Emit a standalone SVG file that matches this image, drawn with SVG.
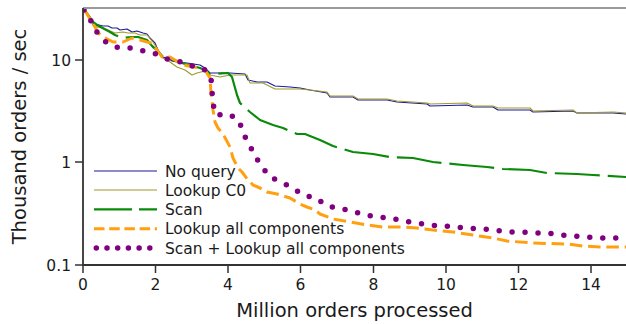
<svg xmlns="http://www.w3.org/2000/svg" width="626" height="324" viewBox="0 0 626 324">
<style>
text{font-family:"DejaVu Sans","Liberation Sans",sans-serif;fill:#1a1a1a}
.tick{font-size:15.5px}
.lab{font-size:19.5px}
.leg{font-size:15.5px}
.ax{stroke:#333;stroke-width:1.8;fill:none}
.tk{stroke:#333;stroke-width:1.5}
.s{fill:none;stroke-linejoin:round}
.nq{stroke:#1a1a9a;stroke-width:1.1}
.c0{stroke:#a09a28;stroke-width:1.1}
.sc{stroke:#0a8a0a;stroke-width:2.2}
.la{stroke:#ffa010;stroke-width:3}
.sl{stroke:#800080;stroke-width:5.5;stroke-linecap:round}
</style>
<defs>
<clipPath id="plot"><rect x="83" y="8" width="543" height="257"/></clipPath>
</defs>
<rect width="626" height="324" fill="#fff"/>
<g id="series" clip-path="url(#plot)">
<g id="no-query"><path class="s nq" d="M83.5,9 L86,12 L93,22 L95,24 L103,26 L108,26 L112,28 L117,28 L120,30 L127,29 L132,32 L137,31 L143,33 L147,34 L150,38 L155,43 L158,50 L162,57 L168,58 L172,61 L177,62 L187,63 L200,65 L205,68 L210,73 L230,73 L245,74 L248,80 L257,82 L267,82 L275,86 L290,87 L300,88 L310,90 L327,93 L330,97 L353,97 L358,100 L387,100 L397,102 L427,104 L430,106 L467,105 L473,107 L493,107 L498,110 L530,110 L533,112 L573,111 L577,113 L613,113 L626,114"/></g>
<g id="lookup-c0"><path class="s c0" d="M83.5,9 L86,12 L93,25 L97,27 L103,28 L108,30 L115,33 L123,32 L128,33 L135,33 L140,35 L147,35 L153,42 L158,50 L163,58 L170,62 L177,67 L185,70 L192,75 L197,73 L205,71 L210,75 L220,77 L230,75 L247,75 L250,83 L263,83 L275,89 L300,89 L310,90 L327,92 L330,96 L353,96 L358,99 L387,99 L397,101 L427,103 L430,104 L467,103 L473,106 L493,106 L498,108 L530,108 L533,111 L573,110 L577,113 L613,112 L626,113"/></g>
<g id="scan"><path class="s sc" stroke-dasharray="45 8" d="M83.5,9 L86,12 L93,22 L97,25 L110,32 L115,35 L123,38 L132,37 L138,37 L147,40 L153,47 L157,50 L163,57 L168,55 L173,60 L185,64 L200,68 L205,70 L210,74 L228,73 L232,77 L237,95 L240,103 L250,112 L260,120 L273,125 L283,128 L297,134 L305,134 L320,140 L333,146 L353,152 L373,154 L390,157 L413,158 L433,162 L463,165 L487,167 L503,169 L530,170 L547,173 L577,174 L593,175 L626,177"/></g>
<g id="lookup-all"><path class="s la" stroke-dasharray="12.5 5.8" d="M83.5,9 L87,14 L95,27 L98,33 L103,37 L113,42 L123,42 L132,38 L140,40 L147,42 L152,43 L157,50 L162,57 L170,57 L183,65 L200,68 L205,70 L210,78 L211,93 L213,110 L215,122 L218,128 L223,134 L230,147 L233,158 L238,168 L242,172 L248,180 L253,185 L260,188 L267,192 L277,194 L290,198 L300,204 L307,207 L315,210 L320,214 L333,219 L350,222 L367,225 L383,227 L403,227 L417,228 L433,230 L453,232 L473,235 L493,238 L507,241 L533,243 L567,244 L583,246 L600,247 L626,247"/></g>
<g id="scan-lookup-all"><path class="s sl" stroke-dasharray="0 13" d="M84,10 L86,11 L92,23 L98,34 L107,43 L119,48 L132,48 L144,51 L156,54 L167,59 L181,62 L192,66 L204,69 L211,78 L212,91 L213,104 L216,115 L228,114 L239,120 L243,133 L249,144 L255,156 L262,167 L270,177 L283,183 L293,188 L303,195 L316,198 L327,206 L339,208 L352,211 L365,215 L378,217 L391,218 L403,221 L416,223 L429,225 L443,226 L455,227 L468,228 L482,229 L495,230 L508,232 L521,232 L534,233 L547,233 L560,235 L573,236 L586,237 L599,238 L612,238 L626,238"/></g>
</g>
<g id="axes">
<line x1="83" y1="8" x2="626" y2="8" stroke="#999" stroke-width="2"/>
<path class="ax" d="M83,8 V265 H626"/>
<g id="yticks">
<line class="tk" x1="75" y1="60" x2="83" y2="60"/>
<line class="tk" x1="75" y1="162" x2="83" y2="162"/>
<line class="tk" x1="75" y1="265" x2="83" y2="265"/>
<text class="tick" x="71" y="66" text-anchor="end">10</text>
<text class="tick" x="71" y="168" text-anchor="end">1</text>
<text class="tick" x="71" y="271" text-anchor="end">0.1</text>
</g>
<g id="xticks">
<path class="tk" d="M83,265 V273 M155.5,265 V273 M228,265 V273 M300.5,265 V273 M373.5,265 V273 M446,265 V273 M518.5,265 V273 M591,265 V273"/>
<text class="tick" x="83" y="290" text-anchor="middle">0</text>
<text class="tick" x="155.5" y="290" text-anchor="middle">2</text>
<text class="tick" x="228" y="290" text-anchor="middle">4</text>
<text class="tick" x="300.5" y="290" text-anchor="middle">6</text>
<text class="tick" x="373.5" y="290" text-anchor="middle">8</text>
<text class="tick" x="446" y="290" text-anchor="middle">10</text>
<text class="tick" x="518.5" y="290" text-anchor="middle">12</text>
<text class="tick" x="591" y="290" text-anchor="middle">14</text>
</g>
<text class="lab" x="354.5" y="317" text-anchor="middle">Million orders processed</text>
<text class="lab" transform="translate(26,136.5) rotate(-90)" text-anchor="middle">Thousand orders / sec</text>
</g>
<g id="legend">
<line class="nq" x1="94" y1="171" x2="157" y2="171"/>
<text class="leg" x="165" y="176.5">No query</text>
<line class="c0" x1="94" y1="190" x2="157" y2="190"/>
<text class="leg" x="165" y="195.5">Lookup C0</text>
<line class="sc" x1="94" y1="209.3" x2="157" y2="209.3" stroke-dasharray="38 7"/>
<text class="leg" x="165" y="214.8">Scan</text>
<line class="la" x1="94" y1="228.7" x2="157" y2="228.7" stroke-dasharray="10.5 4.7"/>
<text class="leg" x="165" y="234.2">Lookup all components</text>
<line class="sl" x1="96.3" y1="248" x2="152" y2="248" stroke-dasharray="0 10.7"/>
<text class="leg" x="165" y="253.5">Scan + Lookup all components</text>
</g>
</svg>
